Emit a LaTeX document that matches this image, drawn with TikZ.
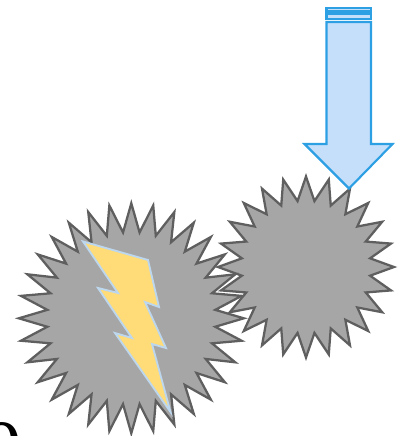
\documentclass[tikz,border=0pt]{standalone}
\usepackage{fontspec}
\setmainfont{Liberation Serif}
\definecolor{stargray}{HTML}{A6A6A6}
\definecolor{starline}{HTML}{5F5F5F}
\definecolor{arrowfill}{HTML}{C5DFFB}
\definecolor{arrowline}{HTML}{2D9FE3}
\definecolor{boltfill}{HTML}{FFDC78}
\definecolor{boltline}{HTML}{BDD7EE}
\tikzset{
  starshape/.style={fill=stargray,draw=starline,line width=1.7pt,line join=miter,miter limit=10},
  arrowshape/.style={fill=arrowfill,draw=arrowline,line width=1.6pt,line join=miter,miter limit=10},
  boltshape/.style={fill=boltfill,draw=boltline,line width=1.4pt,line join=miter,miter limit=10}
}
\begin{document}
\begin{tikzpicture}[x=0.75pt,y=-0.75pt]
\useasboundingbox (0,0) rectangle (407,436);
\clip (0,0) rectangle (407,436);
\node[anchor=base west,inner sep=0pt,font=\fontsize{60pt}{60pt}\selectfont] (glyph) at (-18,475) {9};
% right star
\draw[starshape] (306,176.5)
  \foreach \k in {1,...,47} {
    \pgfextra{\pgfmathsetmacro{\rr}{isodd(\k)?0.735:1}\pgfmathsetmacro{\px}{306+88*\rr*sin(\k*7.5)}\pgfmathsetmacro{\py}{267-90.5*\rr*cos(\k*7.5)}}
    -- (\px,\py)
  } -- cycle;
% left star
\draw[starshape] (131.3,203.3)
  \foreach \k in {1,...,63} {
    \pgfextra{\pgfmathsetmacro{\rr}{isodd(\k)?0.75:1}\pgfmathsetmacro{\px}{131.3+112.5*\rr*sin(\k*5.625)}\pgfmathsetmacro{\py}{318.3-115*\rr*cos(\k*5.625)}}
    -- (\px,\py)
  } -- cycle;
% bolt
\draw[boltshape] (83,241.5) -- (148,260) -- (159,307) -- (145,302) -- (166,348) -- (152,344) -- (170.5,412) -- (115,333) -- (132,338) -- (98,288) -- (118,293) -- cycle;
% arrow
\draw[arrowshape] (326.5,22) -- (371,22) -- (371,144) -- (392.5,144) -- (349,188.5) -- (304.5,144) -- (326.5,144) -- cycle;
\draw[arrowshape] (326.5,14) rectangle (371,19);
\draw[arrowshape] (326.5,8) rectangle (371,11.5);
\end{tikzpicture}
\end{document}
